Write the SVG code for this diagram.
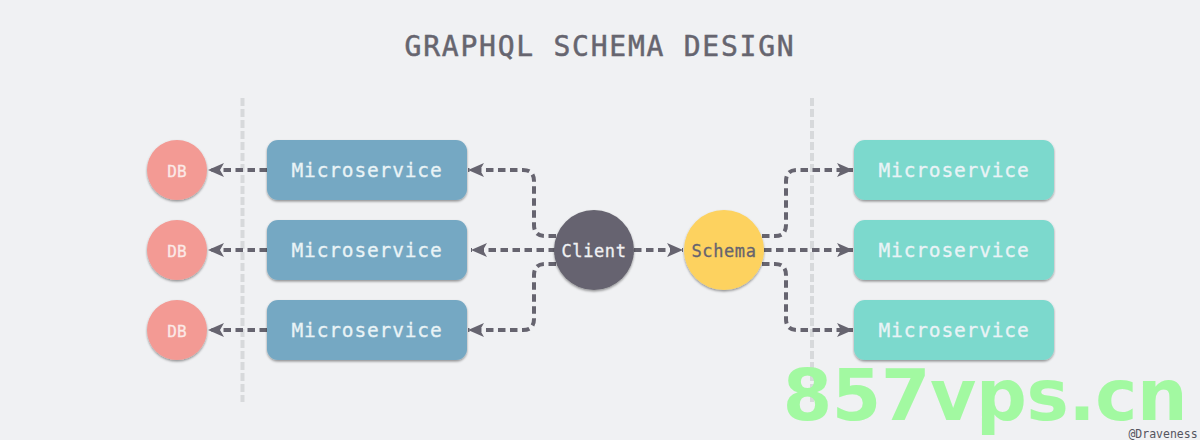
<svg xmlns="http://www.w3.org/2000/svg" width="1200" height="440" viewBox="0 0 1200 440">
<defs>
<filter id="sh" x="-20%" y="-20%" width="140%" height="150%"><feDropShadow dx="0" dy="1.5" stdDeviation="1.2" flood-color="#000" flood-opacity="0.4"/></filter>
<marker id="ah" markerUnits="userSpaceOnUse" markerWidth="18" markerHeight="14" refX="16" refY="7" orient="auto"><path d="M0 0L16 7L0 14L4 7Z" fill="#66646f"/></marker>
</defs>
<style>
text{font-family:"DejaVu Sans Mono","Liberation Mono",monospace;text-anchor:middle}
.lab{font-size:19.5px;fill:#e9f3f6;letter-spacing:.85px;stroke:#e9f3f6;stroke-width:.3px}
.sm{font-size:16px;fill:#fbe9e7;stroke:#fbe9e7;stroke-width:.3px}
.c{fill:none;stroke:#66646f;stroke-width:4;stroke-dasharray:7.5 4.5}
.a{marker-end:url(#ah)}
.g{fill:none;stroke:#d7d9db;stroke-width:4;stroke-dasharray:8 3}
.ms{fill:#75a8c3;filter:url(#sh)}
.mt{fill:#7bd9cd;filter:url(#sh)}
.db{fill:#f39a94;filter:url(#sh)}
</style>
<rect width="1200" height="440" fill="#f0f1f3"/>
<text x="600" y="56" style="font-size:28px;fill:#66656f;letter-spacing:1.75px;stroke:#66656f;stroke-width:.5px">GRAPHQL SCHEMA DESIGN</text>
<g id="guides"><path class="g" d="M242.500 98V402"/><path class="g" d="M812 98V402"/></g>
<g id="connectors">
<path class="c a" d="M267 170H208"/><path class="c a" d="M267 250H208"/><path class="c a" d="M267 330H208"/>
<path class="c a" d="M556 236H545Q534 236 534 225V181Q534 170 523 170H468"/>
<path class="c a" d="M556 250H471"/>
<path class="c a" d="M556 264H545Q534 264 534 275V319Q534 330 523 330H468"/>
<path class="c a" d="M634 250H683"/>
<path class="c a" d="M762 236H775Q786 236 786 225V181Q786 170 797 170H853"/>
<path class="c a" d="M764 250H853"/>
<path class="c a" d="M762 264H775Q786 264 786 275V319Q786 330 797 330H853"/>
</g>
<g id="db1"><circle class="db" cx="177" cy="170" r="30"/><text class="sm" x="177" y="177">DB</text></g>
<g id="db2"><circle class="db" cx="177" cy="250" r="30"/><text class="sm" x="177" y="257">DB</text></g>
<g id="db3"><circle class="db" cx="177" cy="330" r="30"/><text class="sm" x="177" y="337">DB</text></g>
<g id="ms1"><rect class="ms" x="267" y="140" width="200" height="60" rx="11"/><text class="lab" x="367" y="177">Microservice</text></g>
<g id="ms2"><rect class="ms" x="267" y="220" width="200" height="60" rx="11"/><text class="lab" x="367" y="257">Microservice</text></g>
<g id="ms3"><rect class="ms" x="267" y="300" width="200" height="60" rx="11"/><text class="lab" x="367" y="337">Microservice</text></g>
<g id="client"><circle cx="594" cy="250" r="40" fill="#66646f" filter="url(#sh)"/><text x="594" y="257" style="font-size:17px;fill:#f0f1f3;letter-spacing:.6px;stroke:#f0f1f3;stroke-width:.3px">Client</text></g>
<g id="schema"><circle cx="724" cy="250" r="40" fill="#fdd25f" filter="url(#sh)"/><text x="724" y="257" style="font-size:17px;fill:#66646f;letter-spacing:.6px;stroke:#66646f;stroke-width:.3px">Schema</text></g>
<g id="mt1"><rect class="mt" x="854" y="140" width="200" height="60" rx="11"/><text class="lab" x="954" y="177">Microservice</text></g>
<g id="mt2"><rect class="mt" x="854" y="220" width="200" height="60" rx="11"/><text class="lab" x="954" y="257">Microservice</text></g>
<g id="mt3"><rect class="mt" x="854" y="300" width="200" height="60" rx="11"/><text class="lab" x="954" y="337">Microservice</text></g>
<text x="985" y="420" style="font-family:'DejaVu Sans','Liberation Sans',sans-serif;font-size:71px;font-weight:700;fill:#a2f9a1;letter-spacing:-.3px">857vps.cn</text>
<text x="1163" y="438" style="font-size:11.5px;fill:#55555f">@Draveness</text>
</svg>
